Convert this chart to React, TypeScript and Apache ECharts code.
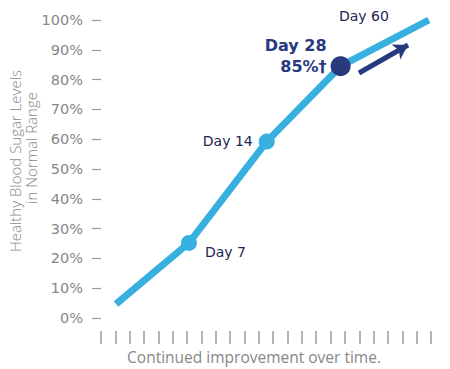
import React, { useEffect, useRef } from "react";
import * as echarts from "echarts";

// x positions are in tick units (24 evenly spaced ticks, 0..23)
const pointX = [1.05, 6.13, 11.55, 16.7, 22.85];
const pointY = [4.7, 25.2, 59.2, 84.5, 100];
const pointLabels = ["", "Day 7", "Day 14", "Day 28", "Day 60"];
const highlightLine2 = "85%†";
const yMin = 0;
const yMax = 100;
const yInterval = 10;
const xTickMax = 23;
const arrowFrom = [17.98, 82.2];
const arrowTo = [21.4, 91.6];
const xAxisTitle = "Continued improvement over time.";
const yTitleLine1 = "Healthy Blood Sugar Levels";
const yTitleLine2 = "in Normal Range";

const LIGHT = "#37afdf";
const NAVY = "#263a7d";
const DARK = "#1c2553";
const GRAY = "#878787";

export default function App() {
  const ref = useRef<HTMLDivElement>(null);
  useEffect(() => {
    document.body.style.margin = "0";
    if (!ref.current) return;
    const chart = echarts.init(ref.current, undefined, { renderer: "svg" });
    const data = pointX.map((x, i) => {
      const base: any = { value: [x, pointY[i]] };
      const lbl = pointLabels[i];
      if (i === 0) {
        base.symbolSize = 0;
      } else if (lbl === "Day 7") {
        base.symbolSize = 16;
        base.label = { show: true, position: "right", distance: 8, offset: [0, 9], formatter: lbl, color: DARK, fontSize: 14, fontFamily: "DejaVu Sans" };
      } else if (lbl === "Day 14") {
        base.symbolSize = 16;
        base.label = { show: true, position: "left", distance: 6, offset: [0, -1], formatter: lbl, color: DARK, fontSize: 14, fontFamily: "DejaVu Sans" };
      } else if (lbl === "Day 28") {
        base.symbolSize = 20;
        base.itemStyle = { color: NAVY };
        base.label = {
          show: true,
          position: "left",
          distance: 4,
          offset: [0, -10],
          formatter: "{a|" + lbl + "}\n{a|" + highlightLine2 + "}",
          rich: {
            a: { color: NAVY, fontSize: 16, fontWeight: "bold", fontFamily: "DejaVu Sans", lineHeight: 21, align: "right" },
          },
        };
      } else {
        base.symbolSize = 0;
        base.label = { show: true, position: "left", distance: 40, offset: [0, -4], formatter: lbl, color: DARK, fontSize: 14, fontFamily: "DejaVu Sans" };
      }
      return base;
    });

    chart.setOption({
      animation: false,
      grid: [
        { left: 101, right: 19, top: 20, bottom: 51, containLabel: false },
        { left: 101, right: 19, top: 330, bottom: 38, containLabel: false },
      ],
      xAxis: [
        {
          type: "value",
          gridIndex: 0,
          min: 0,
          max: xTickMax,
          interval: 1,
          show: false,
        },
        {
          type: "value",
          gridIndex: 1,
          min: 0,
          max: xTickMax,
          interval: 1,
          axisLine: { show: false },
          axisTick: { show: true, inside: false, length: 13, lineStyle: { color: "#9a9a9a", width: 1.5 } },
          axisLabel: { show: false },
          splitLine: { show: false },
          name: xAxisTitle,
          nameLocation: "middle",
          nameGap: 18,
          nameTextStyle: { color: GRAY, fontSize: 15.5, fontFamily: "Open Sans", padding: [0, 24, 0, 0] },
        },
      ],
      yAxis: [
        {
          type: "value",
          gridIndex: 0,
          min: yMin,
          max: yMax,
          interval: yInterval,
          offset: 3,
          axisLine: { show: false },
          axisTick: { show: true, length: 9, lineStyle: { color: "#9a9a9a", width: 1.2 } },
          axisLabel: { formatter: "{value}%", color: GRAY, fontSize: 14.5, fontFamily: "DejaVu Sans", margin: 15 },
          splitLine: { show: false },
        },
        { type: "value", gridIndex: 1, show: false },
      ],
      graphic: [
        {
          type: "text",
          x: 15,
          y: 161,
          rotation: Math.PI / 2,
          style: { text: yTitleLine1, fill: GRAY, fontSize: 15, fontFamily: "Open Sans", fontWeight: 300, textAlign: "center", textVerticalAlign: "middle" },
        },
        {
          type: "text",
          x: 31,
          y: 148,
          rotation: Math.PI / 2,
          style: { text: yTitleLine2, fill: GRAY, fontSize: 15, fontFamily: "Open Sans", fontWeight: 300, textAlign: "center", textVerticalAlign: "middle" },
        },
      ],
      series: [
        {
          type: "line",
          xAxisIndex: 0,
          yAxisIndex: 0,
          data,
          symbol: "circle",
          itemStyle: { color: LIGHT },
          lineStyle: { color: LIGHT, width: 7 },
          emphasis: { disabled: true },
          z: 2,
          markLine: {
            silent: true,
            symbol: ["none", "arrow"],
            symbolSize: [13, 14],
            label: { show: false },
            lineStyle: { color: NAVY, width: 5, type: "solid" },
            data: [[{ coord: arrowFrom }, { coord: arrowTo }]],
          },
        },
      ],
    });
    return () => chart.dispose();
  }, []);
  return <div ref={ref} style={{ width: 450, height: 369 }} />;
}
